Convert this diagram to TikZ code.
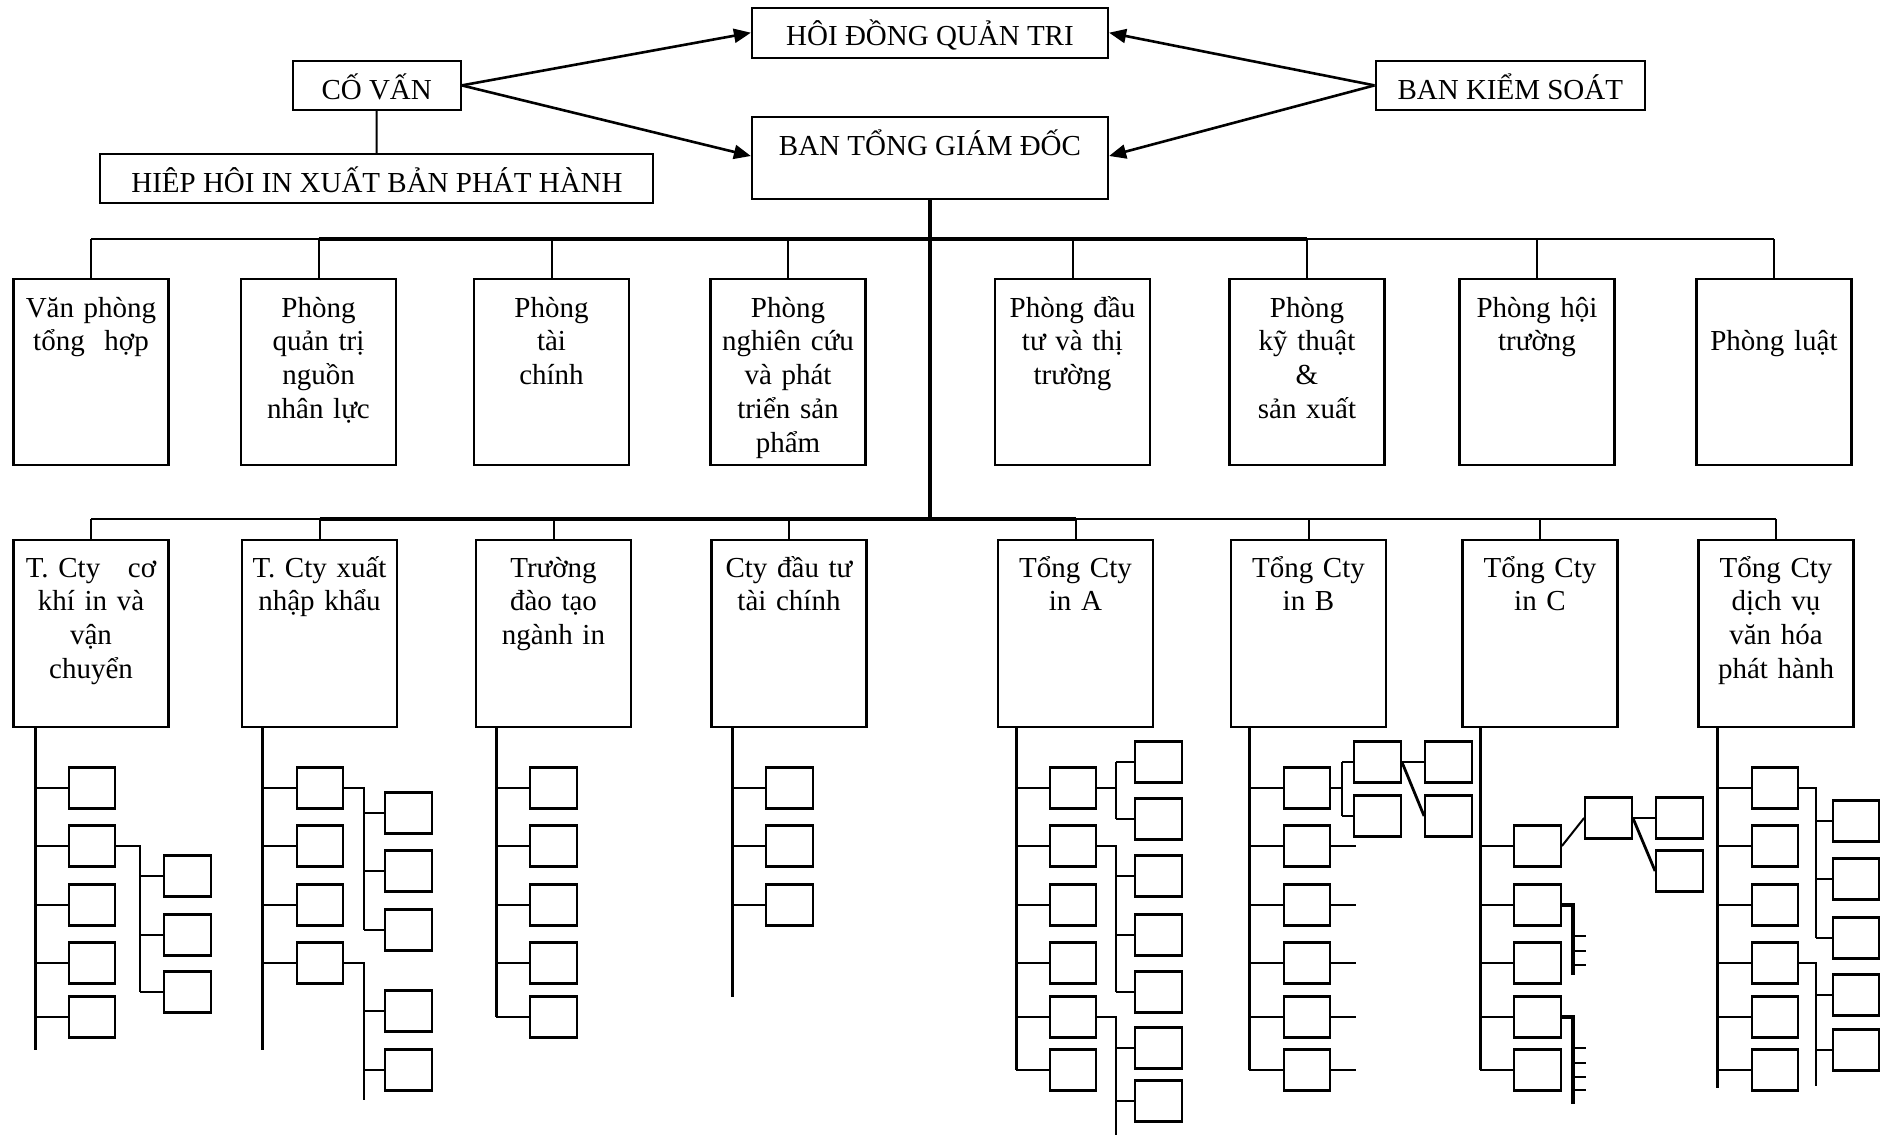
\documentclass[tikz,border=0pt]{standalone}
\usepackage{fontspec}
\setmainfont{Liberation Serif}
\usetikzlibrary{arrows.meta}
\tikzset{
  bx/.style={draw, line width=1.1pt, inner sep=0pt},
  topbox/.style={bx, minimum height=25pt},
  lvone/.style={bx, minimum width=77.5pt, minimum height=93pt},
  lvtwo/.style={bx, minimum width=77.5pt, minimum height=93.5pt},
  sb/.style={bx, minimum width=23.3pt, minimum height=20.5pt},
  txt/.style={font=\fontsize{14.5}{16.9}\selectfont, inner sep=0pt, anchor=base, align=center},
  ttxt/.style={txt, text width=77pt},
  ln/.style={line width=1pt},
  mid/.style={line width=1.4pt},
  thk/.style={line width=1.9pt},
  spn/.style={line width=1.5pt},
  arr/.style={line width=1.3pt, -{Triangle[length=8.5pt, width=7pt]}},
}
\begin{document}
\begin{tikzpicture}[x=0.5pt,y=-0.5pt]
\useasboundingbox (0,0) rectangle (1892,1135);

% ---------- top level ----------
\node[topbox, minimum width=178pt] (hdqt) at (930,32.7) {};
\node[txt] at (930,46) {HÔI ĐỒNG QUẢN TRI};
\node[bx, minimum width=178pt, minimum height=41pt] (btgd) at (930,158) {};
\node[txt] at (930,155) {BAN TỔNG GIÁM ĐỐC};
\node[topbox, minimum width=84pt, minimum height=24.7pt] (covan) at (376.7,85.4) {};
\node[txt] at (376.7,99.3) {CỐ VẤN};
\node[topbox, minimum width=134.7pt, minimum height=24.7pt] (bks) at (1510.3,85.4) {};
\node[txt] at (1510.3,99.3) {BAN KIỂM SOÁT};
\node[topbox, minimum width=276.5pt, minimum height=24.4pt] (hh) at (376.5,178.3) {};
\node[txt] at (377,192.7) {HIÊP HÔI IN XUẤT BẢN PHÁT HÀNH};

\draw[ln] (covan.south) -- (hh.north);
\draw[arr] (covan.east) -- (hdqt.west);
\draw[arr] (covan.east) -- ([yshift=1pt]btgd.west);
\draw[arr] (bks.west) -- (hdqt.east);
\draw[arr] (bks.west) -- ([yshift=1pt]btgd.east);

% ---------- level 1 ----------
\node[lvone] (p1) at (91,372) {};
\node[lvone] (p2) at (318.5,372) {};
\node[lvone] (p3) at (551.5,372) {};
\node[lvone] (p4) at (788,372) {};
\node[lvone] (p5) at (1072.5,372) {};
\node[lvone] (p6) at (1307,372) {};
\node[lvone] (p7) at (1537,372) {};
\node[lvone] (p8) at (1774,372) {};
\node[ttxt] at (91,317) {Văn phòng\\tổng\hspace{5pt} hợp};
\node[ttxt] at (318.5,317) {Phòng\\quản trị\\nguồn\\nhân lực};
\node[ttxt] at (551.5,317) {Phòng\\tài\\chính};
\node[ttxt] at (788,317) {Phòng\\nghiên cứu\\và phát\\triển sản\\phẩm};
\node[ttxt] at (1072.5,317) {Phòng đầu\\tư và thị\\trường};
\node[ttxt] at (1307,317) {Phòng\\kỹ thuật\\\&\\sản xuất};
\node[ttxt] at (1537,317) {Phòng hội\\trường};
\node[ttxt] at (1774,350) {Phòng luật};

% ---------- level 2 ----------
\node[lvtwo] (c1) at (91,633.5) {};
\node[lvtwo] (c2) at (319.5,633.5) {};
\node[lvtwo] (c3) at (553.5,633.5) {};
\node[lvtwo] (c4) at (789,633.5) {};
\node[lvtwo] (c5) at (1075.5,633.5) {};
\node[lvtwo] (c6) at (1308.5,633.5) {};
\node[lvtwo] (c7) at (1540,633.5) {};
\node[lvtwo] (c8) at (1776,633.5) {};
\node[ttxt] at (91,577) {T. Cty\hspace{9pt} cơ\\khí in và\\vận\\chuyển};
\node[ttxt] at (319.5,577) {T. Cty xuất\\nhập khẩu};
\node[ttxt] at (553.5,577) {Trường\\đào tạo\\ngành in};
\node[ttxt] at (789,577) {Cty đầu tư\\tài chính};
\node[ttxt] at (1075.5,577) {Tổng Cty\\in A};
\node[ttxt] at (1308.5,577) {Tổng Cty\\in B};
\node[ttxt] at (1540,577) {Tổng Cty\\in C};
\node[ttxt] at (1776,577) {Tổng Cty\\dịch vụ\\văn hóa\\phát hành};

% ---------- trunk and buses ----------
\coordinate (busA) at (930,239);
\coordinate (busB) at (930,519);
\draw[thk] (btgd.south) -- (busB);
\draw[ln] (p1.north |- busA) -- (p2.north |- busA);
\draw[thk] (p2.north |- busA) -- (p6.north |- busA);
\draw[ln] (p6.north |- busA) -- (p8.north |- busA);
\foreach \k in {1,...,8} { \draw[ln] (p\k.north) -- (p\k.north |- busA); }
\draw[ln] (c1.north |- busB) -- (c2.north |- busB);
\draw[thk] (c2.north |- busB) -- (c5.north |- busB);
\draw[mid] (c5.north |- busB) -- (c7.north |- busB);
\draw[ln] (c7.north |- busB) -- (c8.north |- busB);
\foreach \k in {1,...,8} { \draw[ln] (c\k.north) -- (c\k.north |- busB); }

% ---------- subtree 1 ----------
\coordinate (s1) at (35,1050);
\draw[spn] (c1.south -| s1) -- (s1);
\foreach \n/\y in {1/788,2/846,3/905,4/963,5/1017} {
  \node[sb] (a\n) at (92,\y) {};
  \draw[ln] (a\n.west) -- (a\n.west -| s1);
}
\coordinate (r1) at (140,992);
\draw[mid] (a2.east) -- (a2.east -| r1) -- (r1);
\foreach \n/\y in {1/876,2/935,3/992} {
  \node[sb] (ab\n) at (187.5,\y) {};
  \draw[ln] (ab\n.west) -- (ab\n.west -| r1);
}

% ---------- subtree 2 ----------
\coordinate (s2) at (262,1050);
\draw[spn] (c2.south -| s2) -- (s2);
\foreach \n/\y in {1/788,2/846,3/905,4/963} {
  \node[sb] (b\n) at (320,\y) {};
  \draw[ln] (b\n.west) -- (b\n.west -| s2);
}
\coordinate (r2) at (364,930);
\draw[mid] (b1.east) -- (b1.east -| r2) -- (r2);
\foreach \n/\y in {1/813,2/871,3/930} {
  \node[sb] (bb\n) at (408.5,\y) {};
  \draw[ln] (bb\n.west) -- (bb\n.west -| r2);
}
\coordinate (r3) at (364,1100);
\draw[mid] (b4.east) -- (b4.east -| r3) -- (r3);
\foreach \n/\y in {1/1011,2/1070} {
  \node[sb] (bc\n) at (408.5,\y) {};
  \draw[ln] (bc\n.west) -- (bc\n.west -| r3);
}

% ---------- subtree 3 ----------
\coordinate (s3) at (496,1017);
\draw[spn] (c3.south -| s3) -- (s3);
\foreach \n/\y in {1/788,2/846,3/905,4/963,5/1017} {
  \node[sb] (cc\n) at (553.5,\y) {};
  \draw[ln] (cc\n.west) -- (cc\n.west -| s3);
}

% ---------- subtree 4 ----------
\coordinate (s4) at (732,997);
\draw[spn] (c4.south -| s4) -- (s4);
\foreach \n/\y in {1/788,2/846,3/905} {
  \node[sb] (d\n) at (789.5,\y) {};
  \draw[ln] (d\n.west) -- (d\n.west -| s4);
}

% ---------- subtree 5 ----------
\coordinate (s5) at (1016,1070);
\draw[spn] (c5.south -| s5) -- (s5);
\foreach \n/\y in {1/788,2/846,3/905,4/963,5/1017,6/1070} {
  \node[sb] (e\n) at (1073,\y) {};
  \draw[ln] (e\n.west) -- (e\n.west -| s5);
}
\coordinate (r5t) at (1116,762);
\coordinate (r5b) at (1116,819);
\draw[mid] (e1.east) -- (e1.east -| r5t);
\draw[mid] (r5t) -- (r5b);
\foreach \n/\y in {1/762,2/819} {
  \node[sb] (eb\n) at (1158.5,\y) {};
  \draw[ln] (eb\n.west) -- (eb\n.west -| r5t);
}
\coordinate (r6) at (1116,992);
\draw[mid] (e2.east) -- (e2.east -| r6) -- (r6);
\foreach \n/\y in {1/876,2/935,3/992} {
  \node[sb] (ec\n) at (1158.5,\y) {};
  \draw[ln] (ec\n.west) -- (ec\n.west -| r6);
}
\coordinate (r7) at (1116,1135);
\draw[mid] (e5.east) -- (e5.east -| r7) -- (r7);
\foreach \n/\y in {1/1048,2/1101} {
  \node[sb] (ed\n) at (1158.5,\y) {};
  \draw[ln] (ed\n.west) -- (ed\n.west -| r7);
}

% ---------- subtree 6 ----------
\coordinate (s6) at (1249,1070);
\draw[spn] (c6.south -| s6) -- (s6);
\coordinate (stub6) at (1356,788);
\foreach \n/\y in {1/788,2/846,3/905,4/963,5/1017,6/1070} {
  \node[sb] (f\n) at (1307,\y) {};
  \draw[ln] (f\n.west) -- (f\n.west -| s6);
}
\foreach \n in {2,...,6} { \draw[ln] (f\n.east) -- (f\n.east -| stub6); }
\coordinate (r8t) at (1342,762);
\coordinate (r8b) at (1342,816);
\draw[mid] (f1.east) -- (f1.east -| r8t);
\draw[mid] (r8t) -- (r8b);
\foreach \n/\y in {1/762,2/816} {
  \node[sb] (fb\n) at (1377.5,\y) {};
  \draw[ln] (fb\n.west) -- (fb\n.west -| r8t);
}
\node[sb] (fc1) at (1448.5,762) {};
\node[sb] (fc2) at (1448.5,816) {};
\draw[ln] (fb1.east) -- (fc1.west);
\draw[mid] (fb1.east) -- (fc2.west);

% ---------- subtree 7 ----------
\coordinate (s7) at (1480,1070);
\draw[spn] (c7.south -| s7) -- (s7);
\foreach \n/\y in {2/846,3/905,4/963,5/1017,6/1070} {
  \node[sb] (g\n) at (1537.5,\y) {};
  \draw[ln] (g\n.west) -- (g\n.west -| s7);
}
\node[sb] (gb) at (1608.5,818) {};
\node[sb] (gc1) at (1679.5,818) {};
\node[sb] (gc2) at (1679.5,871) {};
\draw[ln] (g2.east) -- (gb.west);
\draw[ln] (gb.east) -- (gc1.west);
\draw[mid] (gb.east) -- (gc2.west);
\coordinate (r9) at (1573,975);
\draw[thk] (g3.east) -- (g3.east -| r9) -- (r9);
\foreach \t in {936,951,965} { \draw[ln] (r9 |- 0,\t) -- ++(13,0); }
\coordinate (r10) at (1573,1104);
\draw[thk] (g5.east) -- (g5.east -| r10) -- (r10);
\foreach \t in {1048,1063,1077,1090} { \draw[ln] (r10 |- 0,\t) -- ++(13,0); }

% ---------- subtree 8 ----------
\coordinate (s8) at (1717,1088);
\draw[spn] (c8.south -| s8) -- (s8);
\foreach \n/\y in {1/788,2/846,3/905,4/963,5/1017,6/1070} {
  \node[sb] (h\n) at (1775,\y) {};
  \draw[ln] (h\n.west) -- (h\n.west -| s8);
}
\coordinate (r11) at (1816,938);
\draw[mid] (h1.east) -- (h1.east -| r11) -- (r11);
\foreach \n/\y in {1/821,2/879,3/938} {
  \node[sb] (hb\n) at (1856,\y) {};
  \draw[ln] (hb\n.west) -- (hb\n.west -| r11);
}
\coordinate (r12) at (1816,1086);
\draw[mid] (h4.east) -- (h4.east -| r12) -- (r12);
\foreach \n/\y in {1/995,2/1050} {
  \node[sb] (hc\n) at (1856,\y) {};
  \draw[ln] (hc\n.west) -- (hc\n.west -| r12);
}
\end{tikzpicture}
\end{document}
